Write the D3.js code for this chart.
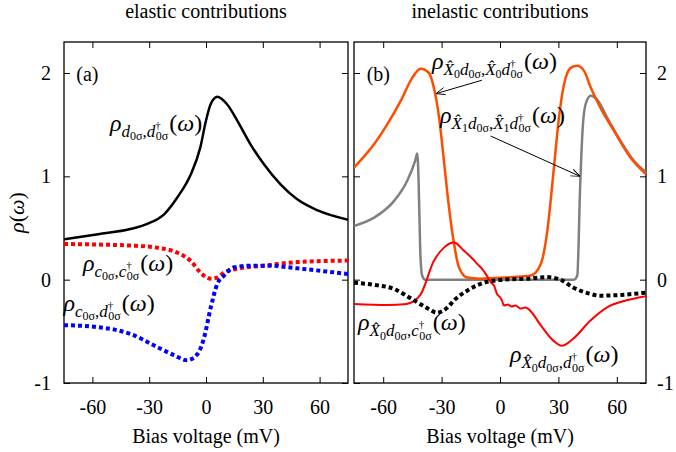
<!DOCTYPE html>
<html>
<head>
<meta charset="utf-8">
<script src="https://cdn.jsdelivr.net/npm/d3@7"></script>
<style>
  body { margin: 0; background: #fff; }
</style>
</head>
<body>
<svg id="chart" width="676" height="452"></svg>
<script>
// --- data (bias voltage mV, rho) ---
const xTicks = [-60, -30, 0, 30, 60];
const yTicks = [-1, 0, 1, 2];

// panel (a): elastic contributions
const rhoDD = [[-75, 0.39], [-57, 0.44], [-40, 0.49], [-31, 0.54], [-22, 0.635], [-15, 0.8], [-8, 1.02],
  [-3, 1.28], [0, 1.54], [2.5, 1.70], [6, 1.77], [11, 1.70], [16.5, 1.54], [23.5, 1.31], [30.5, 1.12],
  [39.5, 0.92], [48, 0.78], [59, 0.67], [75, 0.58]];
const rhoCC = [[-75, 0.345], [-57, 0.34], [-40, 0.33], [-26, 0.31], [-15, 0.26], [-8, 0.18], [-3, 0.07],
  [2.5, 0.01], [6, 0.02], [9.5, 0.07], [15, 0.10], [30.5, 0.135], [48, 0.17], [75, 0.185]];
const rhoCD = [[-75, -0.44], [-57, -0.46], [-40, -0.525], [-26, -0.65], [-17, -0.73], [-10, -0.78],
  [-4.5, -0.72], [-1, -0.56], [2.5, -0.27], [6, -0.04], [9.5, 0.04], [15, 0.12], [23.5, 0.135],
  [34, 0.135], [48, 0.11], [75, 0.055]];

// panel (b): inelastic contributions
const rhoX0X0 = [[-75, 1.085], [-64.7, 1.31], [-58, 1.50], [-51, 1.73], [-45, 1.955], [-40.8, 2.04],
  [-36.5, 2.0], [-34, 1.86], [-31.3, 1.57], [-28.8, 1.15], [-26.2, 0.70], [-23.6, 0.345], [-21.1, 0.12],
  [-16.8, 0.02], [-10, 0.01], [2, 0.02], [15.8, 0.04], [20.9, 0.15], [24.3, 0.47], [27.7, 1.085],
  [30.3, 1.57], [32.9, 1.89], [36.3, 2.05], [39.7, 2.07], [43.2, 2.02], [46.6, 1.86], [51.7, 1.66],
  [58.6, 1.44], [67.1, 1.18], [75, 1.02]];
const rhoX1X1 = [[-75, 0.52], [-64.7, 0.60], [-54.5, 0.76], [-47.6, 0.96], [-43.6, 1.15], [-42.5, 1.22],
  [-41.8, 0.95], [-41, 0.30], [-40, 0.04], [-38.5, 0.0], [38, 0.0], [39.7, 0.04], [41.2, 0.92],
  [42.3, 1.41], [44, 1.70], [46.6, 1.78], [50, 1.74], [55, 1.57], [62, 1.34], [68.8, 1.15], [75, 1.04]];
const rhoX0D = [[-75, -0.235], [-58, -0.245], [-48, -0.235], [-41, -0.15], [-34, 0.18], [-28.8, 0.31],
  [-23.6, 0.36], [-18.5, 0.28], [-14, 0.2], [-11.6, 0.15], [-9, 0.1], [-6.5, 0.03], [-4.5, -0.03],
  [-3, -0.06], [-1.5, -0.14], [0, -0.17], [1, -0.2], [2, -0.25], [4, -0.24], [6, -0.26], [8, -0.25],
  [10.5, -0.28], [13, -0.27], [16, -0.31], [20.5, -0.43], [27.4, -0.59], [31.7, -0.64], [37.7, -0.57],
  [46.2, -0.40], [54.8, -0.27], [65, -0.20], [75, -0.16]];
const rhoX0C = [[-75, -0.03], [-64.7, -0.05], [-54.5, -0.09], [-44.2, -0.2], [-36, -0.29], [-32.5, -0.32],
  [-27, -0.27], [-23.6, -0.2], [-16.8, -0.106], [-6.5, -0.02], [2, 0.0], [14, 0.01], [24, 0.025],
  [31, 0.0], [38, -0.08], [45, -0.13], [51.3, -0.155], [60, -0.15], [75, -0.125]];

// --- layout ---
const svg = d3.select('#chart');
const FONT = 'Liberation Serif';
const plotTop = 42;
const plotBottom = 383;
const panels = [
  { id: 'a', left: 64, right: 348, title: 'elastic contributions', side: 'left' },
  { id: 'b', left: 354, right: 646, title: 'inelastic contributions', side: 'right' },
];

const y = d3.scaleLinear().domain([-1, 2.3]).range([plotBottom, plotTop]);

svg.append('defs').append('marker')
  .attr('id', 'arrow')
  .attr('viewBox', '0 0 10 10')
  .attr('refX', 10).attr('refY', 5)
  .attr('markerWidth', 9).attr('markerHeight', 9)
  .attr('markerUnits', 'userSpaceOnUse')
  .attr('orient', 'auto')
  .append('path')
  .attr('d', 'M0,1 L10,5 L0,9')
  .attr('fill', 'none')
  .attr('stroke', '#000')
  .attr('stroke-width', 1);

// math-ish label: tokens with level main / sub / ss (sub-sub) / sup
const levelStyle = {
  main: { size: 24, off: 0 },
  sub: { size: 17, off: 6 },
  ss: { size: 12, off: 9.5 },
  sup: { size: 11, off: -2 },
};
function mathLabel(g, px, py, tokens) {
  const t = g.append('text').attr('x', px).attr('y', py).attr('font-family', FONT);
  let prev = 0;
  tokens.forEach(([txt, lvl, italic, dx]) => {
    const st = levelStyle[lvl];
    t.append('tspan')
      .attr('dy', st.off - prev)
      .attr('dx', dx || 0)
      .attr('font-size', st.size)
      .attr('font-style', italic ? 'italic' : 'normal')
      .text(txt);
    prev = st.off;
  });
  return t;
}
const omega = [['(', 'main', false, 1], ['ω', 'main', true], [')', 'main', false]];
const dOp = [['d', 'sub', true], ['0σ', 'ss', false]];
const dDag = [['d', 'sub', true], ['†', 'sup', false], ['0σ', 'ss', false, -5]];
const cOp = [['c', 'sub', true], ['0σ', 'ss', false]];
const cDag = [['c', 'sub', true], ['†', 'sup', false], ['0σ', 'ss', false, -5]];
const xHat = (n) => [['X\u0302', 'sub', true], [n, 'ss', false]];
const comma = [[',', 'sub', false]];
const rho = [['ρ', 'main', true]];

panels.forEach((p) => {
  const x = d3.scaleLinear().domain([-75, 75]).range([p.left, p.right]);
  const g = svg.append('g');
  p.x = x;
  p.g = g;

  g.append('clipPath').attr('id', `clip-${p.id}`)
    .append('rect')
    .attr('x', p.left).attr('y', plotTop)
    .attr('width', p.right - p.left).attr('height', plotBottom - plotTop);

  const fmt = (d) => String(d);
  g.append('g').attr('transform', `translate(0,${plotBottom})`)
    .call(d3.axisBottom(x).tickValues(xTicks).tickSize(-6).tickSizeOuter(0).tickPadding(17).tickFormat(fmt));
  g.append('g').attr('transform', `translate(0,${plotTop})`)
    .call(d3.axisTop(x).tickValues(xTicks).tickSize(-6).tickSizeOuter(0).tickFormat(''));
  g.append('g').attr('transform', `translate(${p.left},0)`)
    .call(d3.axisLeft(y).tickValues(yTicks).tickSize(-6).tickSizeOuter(0).tickPadding(13)
      .tickFormat(p.side === 'left' ? fmt : ''));
  g.append('g').attr('transform', `translate(${p.right},0)`)
    .call(d3.axisRight(y).tickValues(yTicks).tickSize(-6).tickSizeOuter(0).tickPadding(11)
      .tickFormat(p.side === 'right' ? fmt : ''));
  g.selectAll('.domain').remove();
  g.selectAll('g').attr('font-family', FONT).attr('font-size', 20);
  g.selectAll('.tick line').attr('stroke', '#000').attr('stroke-width', 1);
  g.selectAll('.tick text').attr('font-family', FONT).attr('font-size', 20);

  g.append('rect')
    .attr('x', p.left).attr('y', plotTop)
    .attr('width', p.right - p.left).attr('height', plotBottom - plotTop)
    .attr('fill', 'none').attr('stroke', '#000').attr('stroke-width', 1.3);

  g.append('text')
    .attr('x', (p.left + p.right) / 2).attr('y', 18)
    .attr('text-anchor', 'middle').attr('font-family', FONT).attr('font-size', 20)
    .text(p.title);
  g.append('text')
    .attr('x', (p.left + p.right) / 2).attr('y', 443)
    .attr('text-anchor', 'middle').attr('font-family', FONT).attr('font-size', 20)
    .text('Bias voltage (mV)');
  g.append('text')
    .attr('x', x(-68.5)).attr('y', y(1.92))
    .attr('font-family', FONT).attr('font-size', 20)
    .text(`(${p.id})`);
});

svg.append('text')
  .attr('transform', `translate(24,${y(0.65)}) rotate(-90)`)
  .attr('text-anchor', 'middle')
  .attr('font-family', FONT)
  .attr('font-size', 22)
  .call((t) => {
    t.append('tspan').attr('font-style', 'italic').text('ρ');
    t.append('tspan').text('(');
    t.append('tspan').attr('font-style', 'italic').text('ω');
    t.append('tspan').text(')');
  });

function drawCurve(p, data, color, width, dash) {
  const line = d3.line()
    .x((d) => p.x(d[0]))
    .y((d) => y(d[1]))
    .curve(d3.curveMonotoneX);
  p.g.append('path')
    .datum(data)
    .attr('clip-path', `url(#clip-${p.id})`)
    .attr('d', line)
    .attr('fill', 'none')
    .attr('stroke', color)
    .attr('stroke-width', width)
    .attr('stroke-dasharray', dash || null)
    .attr('stroke-linejoin', 'round');
}

const [pa, pb] = panels;
drawCurve(pa, rhoDD, '#000', 2.5);
drawCurve(pa, rhoCC, '#ff0000', 4, '4,3');
drawCurve(pa, rhoCD, '#0000ff', 4, '4,3');

drawCurve(pb, rhoX1X1, '#808080', 2.5);
drawCurve(pb, rhoX0X0, '#ff4d00', 2.5);
drawCurve(pb, rhoX0D, '#ff0000', 2);
drawCurve(pb, rhoX0C, '#000', 4, '4,3');

// labels, panel (a)
mathLabel(pa.g, pa.x(-50.7), y(1.44), [...rho, ...dOp, ...comma, ...dDag, ...omega]);
mathLabel(pa.g, pa.x(-65), y(0.087), [...rho, ...cOp, ...comma, ...cDag, ...omega]);
mathLabel(pa.g, pa.x(-75.3), y(-0.30), [...rho, ...cOp, ...comma, ...dDag, ...omega]);

// labels, panel (b)
mathLabel(pb.g, pb.x(-34.9), y(2.04), [...rho, ...xHat('0'), ...dOp, ...comma, ...xHat('0'), ...dDag, ...omega]);
mathLabel(pb.g, pb.x(-30.8), y(1.52), [...rho, ...xHat('1'), ...dOp, ...comma, ...xHat('1'), ...dDag, ...omega]);
mathLabel(pb.g, pb.x(-72.9), y(-0.49), [...rho, ...xHat('0'), ...dOp, ...comma, ...cDag, ...omega]);
mathLabel(pb.g, pb.x(5.1), y(-0.80), [...rho, ...xHat('0'), ...dOp, ...comma, ...dDag, ...omega]);

// arrows
[[[-9.3, 1.93], [-32.9, 1.80]], [[-4.8, 1.39], [41.1, 1.0]]].forEach(([from, to]) => {
  pb.g.append('line')
    .attr('x1', pb.x(from[0])).attr('y1', y(from[1]))
    .attr('x2', pb.x(to[0])).attr('y2', y(to[1]))
    .attr('stroke', '#000').attr('stroke-width', 1)
    .attr('marker-end', 'url(#arrow)');
});
</script>
</body>
</html>
